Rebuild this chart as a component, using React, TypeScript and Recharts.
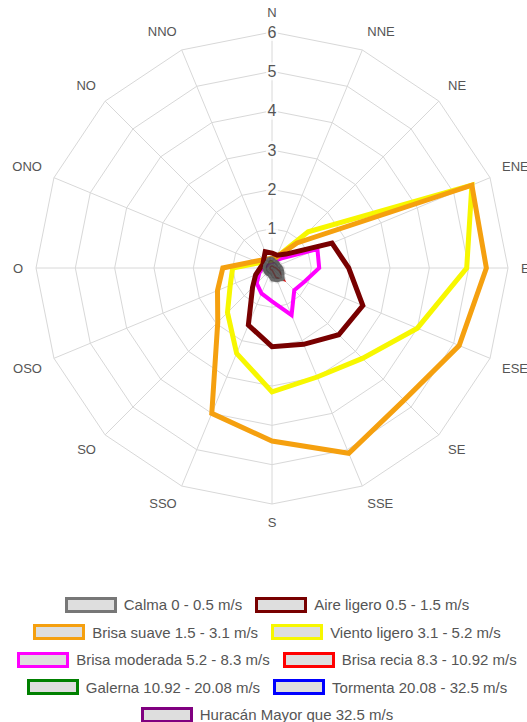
import React from 'react';
import { RadarChart, Radar, PolarGrid, PolarAngleAxis, PolarRadiusAxis, Legend } from 'recharts';

const directions = ['N', 'NNE', 'NE', 'ENE', 'E', 'ESE', 'SE', 'SSE', 'S', 'SSO', 'SO', 'OSO', 'O', 'ONO', 'NO', 'NNO'];

const calma = [0.25, 0.2, 0.2, 0.2, 0.25, 0.3, 0.4, 0.35, 0.3, 0.2, 0.2, 0.2, 0.2, 0.2, 0.2, 0.25];
const aireLigero = [0.38, 0.35, 0.5, 1.65, 1.95, 2.5, 2.4, 2.1, 2.0, 1.57, 0.7, 0.45, 0.3, 0.25, 0.3, 0.45];
const brisaSuave = [0.25, 0.3, 0.9, 5.5, 5.45, 5.15, 4.75, 5.1, 4.4, 4.0, 1.95, 1.5, 1.25, 0.45, 0.3, 0.25];
const vientoLigero = [0.2, 0.3, 1.3, 5.5, 4.95, 4.0, 3.25, 3.0, 3.15, 2.35, 1.6, 1.15, 1.0, 0.35, 0.25, 0.2];
const brisaModerada = [0.15, 0.2, 0.35, 1.25, 1.2, 0.9, 0.8, 1.3, 0.85, 0.7, 0.55, 0.35, 0.25, 0.15, 0.15, 0.15];
const brisaRecia = [0.05, 0.05, 0.05, 0.05, 0.1, 0.2, 0.45, 0.25, 0.05, 0.05, 0.05, 0.05, 0.05, 0.05, 0.05, 0.05];
const galerna = [0, 0, 0, 0, 0, 0, 0, 0, 0, 0, 0, 0, 0, 0, 0, 0];
const tormenta = [0, 0, 0, 0, 0, 0, 0, 0, 0, 0, 0, 0, 0, 0, 0, 0];
const huracan = [0, 0, 0, 0, 0, 0, 0, 0, 0, 0, 0, 0, 0, 0, 0, 0];

const radiusTicks = [0, 1, 2, 3, 4, 5, 6];

const series = [
  { key: 'calma', label: 'Calma 0 - 0.5 m/s', color: '#777777', values: calma, width: 3, fill: '#444' },
  { key: 'aire', label: 'Aire ligero 0.5 - 1.5 m/s', color: '#780000', values: aireLigero, width: 5 },
  { key: 'suave', label: 'Brisa suave 1.5 - 3.1 m/s', color: '#f5a00f', values: brisaSuave, width: 5 },
  { key: 'viento', label: 'Viento ligero 3.1 - 5.2 m/s', color: '#f7f700', values: vientoLigero, width: 5 },
  { key: 'moderada', label: 'Brisa moderada 5.2 - 8.3 m/s', color: '#ff00ff', values: brisaModerada, width: 4 },
  { key: 'recia', label: 'Brisa recia 8.3 - 10.92 m/s', color: '#ff0000', values: brisaRecia, width: 1.5 },
  { key: 'galerna', label: 'Galerna 10.92 - 20.08 m/s', color: '#008000', values: galerna, width: 3 },
  { key: 'tormenta', label: 'Tormenta 20.08 - 32.5 m/s', color: '#0000ff', values: tormenta, width: 3 },
  { key: 'huracan', label: 'Huracán Mayor que 32.5 m/s', color: '#800080', values: huracan, width: 3 },
];

const data = directions.map((dir, i) => {
  const row: any = { dir };
  series.forEach(s => { row[s.key] = s.values[i]; });
  return row;
});

const CX = 272;
const CY = 268;
const R = 236;
const FONT = '"Liberation Sans", Arial, sans-serif';
const RAD = Math.PI / 180;

const AngleTick = (props: any) => {
  const a = props.payload.coordinate;
  const dx = Math.cos(a * RAD);
  const dy = -Math.sin(a * RAD);
  const x = CX + (R + 13) * dx;
  const y = CY + (R + 13) * dy;
  const anchor = Math.abs(dx) < 0.01 ? 'middle' : dx > 0 ? 'start' : 'end';
  const by = Math.abs(dy) < 0.01 ? y + 4.5 : dy < 0 ? y - 2 : y + 10;
  return (
    <text x={x} y={by} textAnchor={anchor} fontSize={13} fill="#555" fontFamily={FONT}>
      {props.payload.value}
    </text>
  );
};

const RadiusTick = (props: any) => {
  const v = props.payload.value;
  if (v === 0) return null;
  return (
    <g>
      <rect x={props.x - 6} y={props.y - 9} width={12} height={18} fill="rgba(255,255,255,0.75)" />
      <text x={props.x} y={props.y + 5.5} textAnchor="middle" fontSize={16} fill="#555" fontFamily={FONT}>
        {v}
      </text>
    </g>
  );
};

const legendRows = [series.slice(0, 2), series.slice(2, 4), series.slice(4, 6), series.slice(6, 8), series.slice(8)];

const renderLegend = () => (
  <div style={{ fontFamily: FONT, fontSize: 15, color: '#555', paddingLeft: 7, boxSizing: 'border-box', width: 527 }}>
    {legendRows.map((row, i) => (
      <div key={i} style={{ display: 'flex', justifyContent: 'center', alignItems: 'center', height: 27.5 }}>
        {row.map(s => (
          <div key={s.key} style={{ display: 'flex', alignItems: 'center', margin: '0 6.5px', whiteSpace: 'nowrap' }}>
            <span style={{ display: 'inline-block', width: 46, height: 10, border: `3px solid ${s.color}`, background: '#dedede', marginRight: 7 }} />
            <span>{s.label}</span>
          </div>
        ))}
      </div>
    ))}
  </div>
);

export default function App() {
  // draw in reverse so the first series ends on top
  const drawOrder = [...series].reverse();
  return (
    <div style={{ position: 'absolute', left: 0, top: 0 }}>
      <RadarChart width={527} height={722} data={data} cx={CX} cy={CY} outerRadius={R} margin={{ top: 0, right: 0, bottom: 0, left: 0 }}>
        <PolarGrid gridType="polygon" stroke="#d8d8d8" />
        <PolarAngleAxis dataKey="dir" tick={<AngleTick />} tickLine={false} axisLine={false} />
        <PolarRadiusAxis angle={90} domain={[0, 6]} ticks={radiusTicks} tickCount={7} type="number" axisLine={false} tickLine={false} tick={<RadiusTick />} />
        {drawOrder.map(s => (
          <Radar
            key={s.key}
            name={s.label}
            dataKey={s.key}
            stroke={s.color}
            strokeWidth={s.width}
            strokeLinejoin="miter"
            fill={s.fill || 'none'}
            fillOpacity={s.fill ? 0.85 : 0}
            dot={{ r: 3, fill: 'rgba(0,0,0,0.12)', stroke: 'none' }}
            isAnimationActive={false}
          />
        ))}
        <Legend content={renderLegend} wrapperStyle={{ top: 591, left: 0, bottom: 'auto', width: 527 }} />
      </RadarChart>
    </div>
  );
}
